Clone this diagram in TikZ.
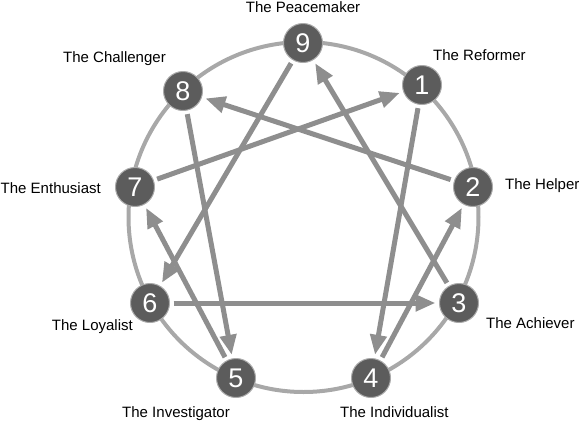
\documentclass[tikz,border=0pt]{standalone}
\usepackage{fontspec}
\setmainfont{Liberation Sans}
\usetikzlibrary{arrows.meta}
\definecolor{ringc}{RGB}{168,168,168}
\definecolor{arrc}{RGB}{142,142,142}
\definecolor{nodec}{RGB}{92,92,92}
\definecolor{rimc}{RGB}{170,170,170}
\begin{document}
\begin{tikzpicture}[x=1pt,y=-1pt,
  num/.style={circle, fill=nodec, draw=rimc, line width=1pt, minimum size=39pt, inner sep=0pt, outer sep=4pt, text=white, font=\fontsize{27}{27}\selectfont},
  lab/.style={font=\fontsize{15}{15}\selectfont, inner sep=0pt, text height=10.7pt, text depth=0pt},
  link/.style={draw=arrc, line width=5pt, -{Triangle[length=20pt,width=16pt]}},
  ring/.style={draw=ringc, line width=4pt}]
\useasboundingbox (0,0) rectangle (582,421);
\draw[ring] (303.5,217) circle (175);
\node[num] (n9) at (303,43) {9};
\node[num] (n1) at (422,85) {1};
\node[num] (n2) at (473,187) {2};
\node[num] (n3) at (459,303) {3};
\node[num] (n4) at (371,378) {4};
\node[num] (n5) at (236,378) {5};
\node[num] (n6) at (150,303) {6};
\node[num] (n7) at (135,187) {7};
\node[num] (n8) at (183,91) {8};
\node[lab] (l9) at (303,7) {The Peacemaker};
\node[lab, anchor=west] (l1) at (433,55) {The Reformer};
\node[lab, anchor=east] (l8) at (166,57) {The Challenger};
\node[lab, anchor=west] (l2) at (505,184) {The Helper};
\node[lab, anchor=east] (l7) at (101,188) {The Enthusiast};
\node[lab, anchor=east] (l6) at (133,325) {The Loyalist};
\node[lab, anchor=west] (l3) at (486,323) {The Achiever};
\node[lab, anchor=east] (l5) at (230,412) {The Investigator};
\node[lab, anchor=west] (l4) at (340,412) {The Individualist};
\draw[link] (n1) -- (n4);
\draw[link] (n4) -- (n2);
\draw[link] (n2) -- (n8);
\draw[link] (n8) -- (n5);
\draw[link] (n5) -- (n7);
\draw[link] (n7) -- (n1);
\draw[link] (n9) -- (n6);
\draw[link] (n6) -- (n3);
\draw[link] (n3) -- (n9);
\end{tikzpicture}
\end{document}
